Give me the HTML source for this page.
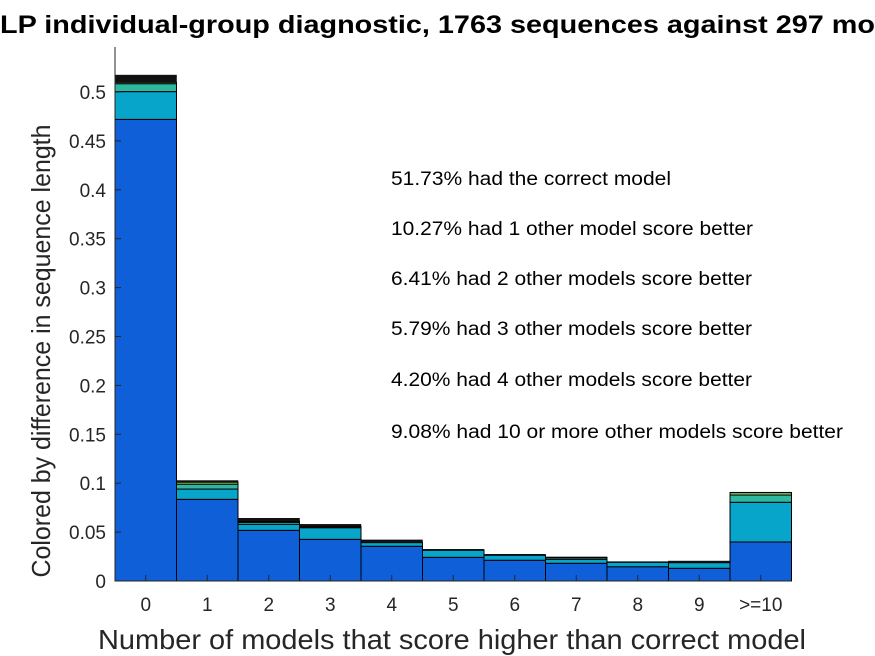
<!DOCTYPE html>
<html><head><meta charset="utf-8"><style>
body{margin:0;background:#fff}
svg{display:block;font-family:"Liberation Sans",Arial,sans-serif}
</style></head><body>
<svg id="c" width="875" height="656">
<text x="0" y="33" font-size="25" font-weight="bold" fill="#000" textLength="875" lengthAdjust="spacingAndGlyphs">LP individual-group diagnostic, 1763 sequences against 297 mo</text>
<g id="bars"></g>
<g id="axes"></g>
<g font-size="19" fill="#000">
<text x="391" y="185" textLength="280" lengthAdjust="spacingAndGlyphs">51.73% had the correct model</text>
<text x="391" y="235" textLength="362" lengthAdjust="spacingAndGlyphs">10.27% had 1 other model score better</text>
<text x="391" y="285" textLength="361" lengthAdjust="spacingAndGlyphs">6.41% had 2 other models score better</text>
<text x="391" y="335" textLength="361" lengthAdjust="spacingAndGlyphs">5.79% had 3 other models score better</text>
<text x="391" y="386" textLength="361" lengthAdjust="spacingAndGlyphs">4.20% had 4 other models score better</text>
<text x="391" y="438" textLength="452" lengthAdjust="spacingAndGlyphs">9.08% had 10 or more other models score better</text>
</g>
<text x="452" y="649" font-size="28" text-anchor="middle" fill="#262626" textLength="708" lengthAdjust="spacingAndGlyphs">Number of models that score higher than correct model</text>
<text transform="translate(50,351) rotate(-90)" font-size="26" text-anchor="middle" fill="#262626" textLength="453" lengthAdjust="spacingAndGlyphs">Colored by difference in sequence length</text>
</svg>
<script>
const categories=["0","1","2","3","4","5","6","7","8","9",">=10"];
const blueVals=[0.472,0.0835,0.0518,0.0426,0.0355,0.0242,0.0212,0.0181,0.0146,0.0130,0.0399];
const cyanVals=[0.0284,0.0105,0.0062,0.0119,0.0037,0.0072,0.0051,0.0041,0.0045,0.0057,0.0406];
const tealVals=[0.0081,0.005,0.002,0.001,0,0,0,0.0016,0,0,0.0074];
const greenVals=[0.0014,0.002,0.001,0,0,0,0,0.0004,0,0,0.0024];
const blackVals=[0.0074,0.0017,0.0031,0.0024,0.0028,0.001,0.001,0.0003,0.0007,0.0017,0.0005];
const yTicks=[0,0.05,0.1,0.15,0.2,0.25,0.3,0.35,0.4,0.45,0.5];
const yTickLabels=["0","0.05","0.1","0.15","0.2","0.25","0.3","0.35","0.4","0.45","0.5"];
const NS="http://www.w3.org/2000/svg";
const X0=115,BW=61.5,Y0=581,K=978,YTOP=47;
const xs=i=>X0+i*BW, ys=v=>Y0-v*K;
const layers=[[blueVals,"#0f5fd9","blue"],[cyanVals,"#07a5c9","cyan"],[tealVals,"#2fb8a0","teal"],[greenVals,"#8ccf6a","green"],[blackVals,"#111111","dark"]];
const bars=document.getElementById('bars');
categories.forEach((c,i)=>{let base=0;
 layers.forEach(([arr,col,nm])=>{const v=arr[i];if(v<=0)return;
  const r=document.createElementNS(NS,'rect');
  r.setAttribute('x',xs(i));r.setAttribute('width',BW);
  r.setAttribute('y',ys(base+v));r.setAttribute('height',v*K);
  r.setAttribute('fill',col);r.setAttribute('stroke','#000');r.setAttribute('stroke-width',nm==="dark"?0.5:1);
  
  
  bars.appendChild(r);base+=v;});
});
const ax=document.getElementById('axes');
function line(x1,y1,x2,y2,n){const l=document.createElementNS(NS,'line');l.setAttribute('x1',x1);l.setAttribute('y1',y1);l.setAttribute('x2',x2);l.setAttribute('y2',y2);l.setAttribute('stroke','#262626');l.setAttribute('stroke-width',1);


ax.appendChild(l);}
function text(x,y,s,anchor,n){const t=document.createElementNS(NS,'text');t.setAttribute('x',x);t.setAttribute('y',y);t.setAttribute('font-size',19);t.setAttribute('fill','#262626');t.setAttribute('text-anchor',anchor);t.textContent=s;


ax.appendChild(t);}
line(X0,YTOP,X0,Y0,'y-axis-line');
line(X0,Y0,xs(11),Y0,'x-axis-line');
yTicks.forEach((v,i)=>{line(X0,ys(v),X0+6,ys(v),'y-tick');text(X0-9,ys(v)+7,yTickLabels[i],'end','y-tick-label');});
categories.forEach((c,i)=>{const cx=xs(i)+BW/2;line(cx,Y0,cx,Y0-6,'x-tick');text(cx,Y0+30,c,'middle','x-tick-label');});
</script>
</body></html>
